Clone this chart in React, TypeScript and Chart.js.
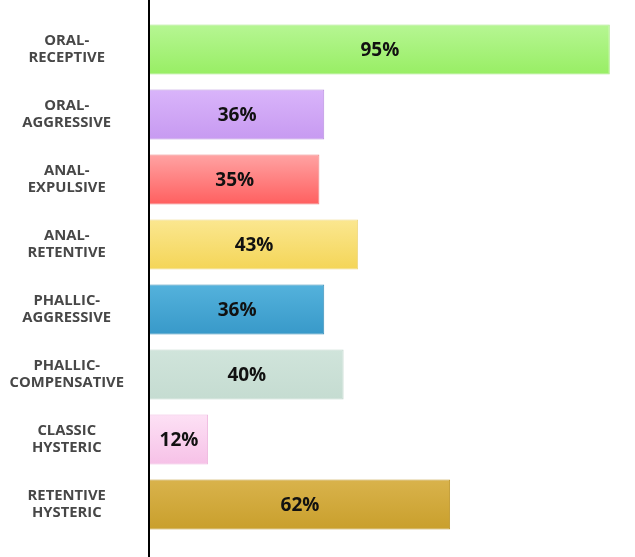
import { useEffect, useRef } from 'react'
import { Chart, registerables } from 'chart.js'

Chart.register(...registerables)

const categories: string[][] = [
  ['ORAL-', 'RECEPTIVE'],
  ['ORAL-', 'AGGRESSIVE'],
  ['ANAL-', 'EXPULSIVE'],
  ['ANAL-', 'RETENTIVE'],
  ['PHALLIC-', 'AGGRESSIVE'],
  ['PHALLIC-', 'COMPENSATIVE'],
  ['CLASSIC', 'HYSTERIC'],
  ['RETENTIVE', 'HYSTERIC'],
]
const values = [95, 36, 35, 43, 36, 40, 12, 62]

// gradient top / bottom and border per bar
const topColors = ['#b6f693', '#d9b4fa', '#ffa3a3', '#fbe790', '#54b2dc', '#d0e4db', '#fde1f5', '#d9b34c']
const bottomColors = ['#98ee64', '#c79af1', '#ff5f5f', '#f4d557', '#3899c9', '#c5dcd1', '#f6c1e7', '#c99f2c']
const borderColors = ['#a8e884', '#b98ee0', '#ee8080', '#eed880', '#3a8fb8', '#bfd5cb', '#efb8df', '#bf982f']

const gradientPlugin = {
  id: 'barGradient',
  beforeDatasetsDraw(chart: any) {
    const ctx = chart.ctx
    const meta = chart.getDatasetMeta(0)
    meta.data.forEach((el: any, i: number) => {
      const { y, height } = el.getProps(['y', 'height'], true)
      const g = ctx.createLinearGradient(0, y - height / 2, 0, y + height / 2)
      g.addColorStop(0, topColors[i])
      g.addColorStop(1, bottomColors[i])
      el.options.backgroundColor = g
    })
  },
}

const valueLabels = {
  id: 'valueLabels',
  afterDatasetsDraw(chart: any) {
    const ctx = chart.ctx
    const meta = chart.getDatasetMeta(0)
    ctx.save()
    ctx.font = 'bold 19px "Open Sans"'
    ctx.fillStyle = '#111'
    ctx.textAlign = 'center'
    ctx.textBaseline = 'middle'
    meta.data.forEach((el: any, i: number) => {
      const { x, base, y } = el.getProps(['x', 'base', 'y'], true)
      ctx.fillText(values[i] + '%', (x + base) / 2, y + 1)
    })
    ctx.restore()
  },
}

const axisLine = {
  id: 'axisLine',
  afterDraw(chart: any) {
    const ctx = chart.ctx
    ctx.save()
    ctx.strokeStyle = '#000'
    ctx.lineWidth = 2
    ctx.beginPath()
    ctx.moveTo(chart.chartArea.left - 1, 0)
    ctx.lineTo(chart.chartArea.left - 1, chart.height)
    ctx.stroke()
    ctx.restore()
  },
}

export default function App() {
  const canvasRef = useRef<HTMLCanvasElement>(null)

  useEffect(() => {
    document.body.style.margin = '0'
    if (!canvasRef.current) return
    const chart = new Chart(canvasRef.current, {
      type: 'bar',
      data: {
        labels: categories,
        datasets: [
          {
            data: values,
            backgroundColor: bottomColors,
            borderColor: borderColors,
            borderWidth: 1,
            barPercentage: 0.77,
            categoryPercentage: 1,
          },
        ],
      },
      options: {
        indexAxis: 'y',
        responsive: false,
        animation: false,
        layout: { padding: { top: 17, bottom: 20, right: 1, left: 0 } },
        plugins: { legend: { display: false }, tooltip: { enabled: false } },
        scales: {
          x: { display: false, min: 0, max: 100 },
          y: {
            grid: { display: false },
            border: { display: false },
            ticks: {
              crossAlign: 'center',
              padding: 18,
              color: '#474747',
              font: { family: '"Open Sans"', size: 14.8, weight: 'bold', lineHeight: 1.15 },
            },
            afterFit(scale: any) {
              scale.width = 150
              scale.paddingTop = 0
              scale.paddingBottom = 0
            },
          },
        },
      },
      plugins: [gradientPlugin, valueLabels, axisLine],
    })
    return () => chart.destroy()
  }, [])

  return (
    <div style={{ width: 635, height: 557 }}>
      <canvas ref={canvasRef} width={635} height={557} />
    </div>
  )
}
